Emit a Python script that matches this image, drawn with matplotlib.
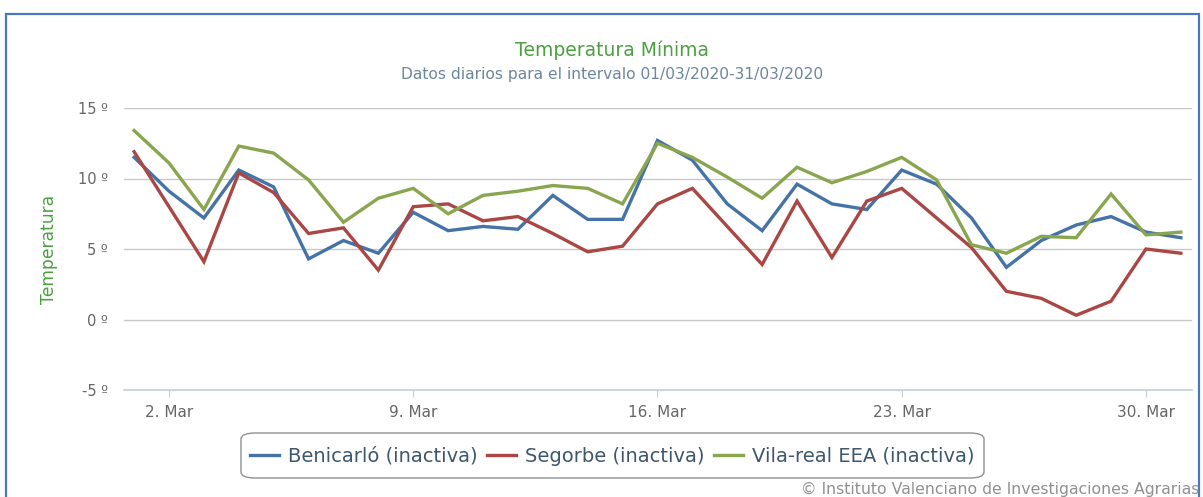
import matplotlib.pyplot as plt
from matplotlib.patches import Rectangle, FancyBboxPatch
from matplotlib.lines import Line2D

# ============================================
# Datos: temperatura mínima diaria, marzo 2020
# ============================================

dias = list(range(1, 32))

benicarlo = [11.5, 9.1, 7.2, 10.6, 9.4, 4.3, 5.6, 4.7, 7.6, 6.3, 6.6,
             6.4, 8.8, 7.1, 7.1, 12.7, 11.3, 8.2, 6.3, 9.6, 8.2, 7.8,
             10.6, 9.6, 7.2, 3.7, 5.6, 6.7, 7.3, 6.2, 5.8]

segorbe = [11.9, 8.0, 4.1, 10.4, 9.0, 6.1, 6.5, 3.5, 8.0, 8.2, 7.0,
           7.3, 6.1, 4.8, 5.2, 8.2, 9.3, 6.6, 3.9, 8.4, 4.4, 8.4,
           9.3, 7.2, 5.1, 2.0, 1.5, 0.3, 1.3, 5.0, 4.7]

vilareal = [13.4, 11.1, 7.8, 12.3, 11.8, 9.9, 6.9, 8.6, 9.3, 7.5, 8.8,
            9.1, 9.5, 9.3, 8.2, 12.5, 11.5, 10.1, 8.6, 10.8, 9.7, 10.5,
            11.5, 9.9, 5.3, 4.7, 5.9, 5.8, 8.9, 6.0, 6.2]

series = ["Benicarló (inactiva)", "Segorbe (inactiva)", "Vila-real EEA (inactiva)"]
colores = ["#4572A7", "#AA4643", "#89A54E"]

xticks = [2, 9, 16, 23, 30]
xlabels = ["2. Mar", "9. Mar", "16. Mar", "23. Mar", "30. Mar"]
yticks = [-5, 0, 5, 10, 15]
ylabels = ["-5 º", "0 º", "5 º", "10 º", "15 º"]

# ============================================
# Figura
# ============================================

W, H = 1203, 497
fig = plt.figure(figsize=(W / 100, H / 100), dpi=100)

# marco azul del contenedor
fig.patches.append(Rectangle((6 / W, -0.1), (1193) / W, 1.1 - 14 / H,
                             transform=fig.transFigure, fill=False,
                             edgecolor="#4A78C0", linewidth=1.6))

ax = fig.add_axes([124 / W, 1 - 390 / H, (1192 - 124) / W, (390 - 108) / H])

for datos, nombre, color in zip([benicarlo, segorbe, vilareal], series, colores):
    ax.plot(dias, datos, color=color, linewidth=2.4, label=nombre,
            solid_joinstyle="miter")

ax.set_xlim(0.71, 31.32)
ax.set_ylim(-5, 15)
ax.set_yticks(yticks)
ax.set_yticklabels(ylabels)
ax.set_xticks(xticks)
ax.set_xticklabels(xlabels)

ax.grid(axis="y", color="#C8C8C8", linewidth=1)
ax.set_axisbelow(True)
for lado in ["top", "right", "left"]:
    ax.spines[lado].set_visible(False)
ax.spines["bottom"].set_color("#C0D0E0")
ax.spines["bottom"].set_linewidth(1.2)

ax.tick_params(axis="y", length=0, pad=11.5, labelsize=10.5, labelcolor="#666666")
ax.tick_params(axis="x", length=5, color="#C0D0E0", pad=6,
               labelsize=11, labelcolor="#666666")

ax.set_ylabel("Temperatura", color="#4CA040", fontsize=12.3, labelpad=14)

fig.text(612 / W, 1 - 50 / H, "Temperatura Mínima", color="#4CA040",
         fontsize=13.5, ha="center", va="center")
fig.text(612 / W, 1 - 75 / H,
         "Datos diarios para el intervalo 01/03/2020-31/03/2020",
         color="#6D869F", fontsize=11.2, ha="center", va="center")

# leyenda
caja = FancyBboxPatch((241 / W, 1 - 478 / H), (984 - 241) / W, (478 - 433) / H,
                      boxstyle="round,pad=0,rounding_size=0.012",
                      transform=fig.transFigure, facecolor="white",
                      edgecolor="#909090", linewidth=1)
fig.patches.append(caja)
handles = [Line2D([], [], color=c, linewidth=2.4) for c in colores]
fig.legend(handles, series, loc="center", bbox_to_anchor=(612 / W, 1 - 456 / H),
           ncol=3, frameon=False, fontsize=14, handlelength=1.5,
           handletextpad=0.45, columnspacing=0.5, labelcolor="#3E576F")

fig.text(1199 / W, 1 - 489 / H,
         "© Instituto Valenciano de Investigaciones Agrarias",
         color="#909090", fontsize=11.3, ha="right", va="center")

plt.savefig("out.png", dpi=100)
